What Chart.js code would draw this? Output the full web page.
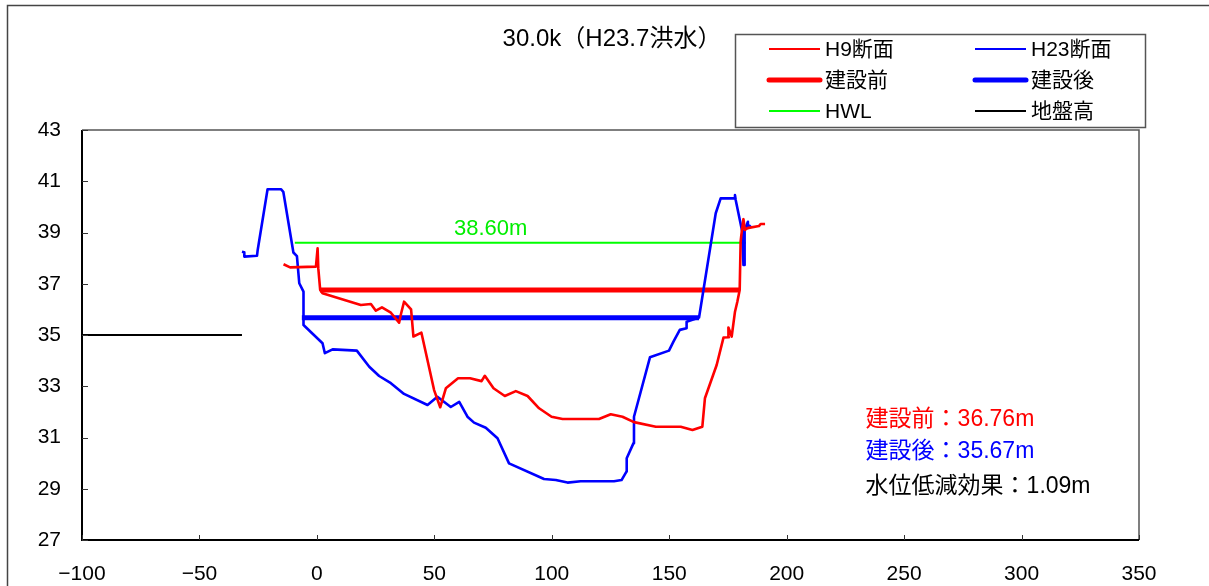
<!DOCTYPE html>
<html>
<head>
<meta charset="utf-8">
<script src="https://cdn.jsdelivr.net/npm/chart.js@4/dist/chart.umd.min.js"></script>
<style>
  html, body { margin: 0; padding: 0; background: #fff; }
  #wrap { position: relative; width: 1209px; height: 586px; }
</style>
</head>
<body>
<div id="wrap"><canvas id="c" width="1209" height="586"></canvas></div>
<script>
// ---- cross-section data (distance in m, elevation in m) ----
const titleText = '30.0k（H23.7洪水）';

// H9 surveyed cross-section
const h9X = [-14.2, -11.4, -0.4, 0.3, 0.6, 1.4, 2.4, 18.7, 23.0, 25.1, 27.7, 31.5, 35.0, 35.7, 37.1, 40.1,
  41.1, 44.5, 49.9, 52.5, 54.9, 60.1, 65.2, 70.1, 71.5, 75.2, 80.0, 84.7, 89.7, 94.6, 99.9, 104.6,
  120.1, 125.1, 130.1, 135.0, 144.3, 154.9, 159.9, 164.1, 165.2, 170.2, 173.1, 175.4, 175.2, 176.6,
  178.0, 179.0, 180.0, 180.4, 180.7, 181.6, 182.2, 183.3, 188.2, 188.9, 190.8];
const h9Y = [37.76, 37.64, 37.67, 38.38, 37.60, 36.76, 36.63, 36.17, 36.21, 35.95, 36.08, 35.87, 35.48, 35.78, 36.30, 36.00,
  34.94, 35.09, 32.85, 32.18, 32.92, 33.31, 33.31, 33.20, 33.41, 32.92, 32.62, 32.81, 32.62, 32.14, 31.81, 31.72,
  31.72, 31.91, 31.81, 31.60, 31.42, 31.42, 31.29, 31.42, 32.53, 33.83, 34.90, 34.91, 35.29, 34.94,
  35.91, 36.30, 36.76, 38.64, 38.90, 39.52, 39.10, 39.17, 39.25, 39.33, 39.33];

// H23 surveyed cross-section
const h23X = [-31.9, -30.9, -30.9, -25.5, -25.2, -21.0, -15.3, -14.3, -10.0, -8.5, -7.5, -5.7, -5.7, 2.4, 3.4, 6.7,
  17.0, 22.3, 26.5, 31.5, 37.1, 47.1, 51.3, 57.0, 60.6, 64.1, 66.9, 71.9, 76.9, 81.8, 96.7, 101.7,
  106.7, 112.3, 126.5, 129.7, 131.8, 131.9, 134.8, 135.0, 141.8, 149.9, 151.8, 154.5, 157.4, 157.4,
  162.7, 169.8, 171.9, 177.6, 178.0, 178.3, 181.1, 181.6, 182.1, 182.1, 183.5, 183.5, 184.7];
const h23Y = [38.25, 38.23, 38.06, 38.09, 38.32, 40.69, 40.69, 40.59, 38.22, 38.08, 37.02, 36.69, 35.39, 34.68, 34.29, 34.44,
  34.39, 33.76, 33.40, 33.12, 32.70, 32.27, 32.59, 32.19, 32.39, 31.81, 31.58, 31.38, 30.97, 29.99, 29.38, 29.34,
  29.24, 29.29, 29.29, 29.34, 29.67, 30.19, 30.78, 31.81, 34.13, 34.39, 34.74, 35.20, 35.26, 35.52,
  35.68, 39.75, 40.33, 40.33, 40.46, 40.27, 39.03, 37.73, 37.73, 39.10, 39.42, 39.18, 39.29];

// computed water levels and their extents
const levelBefore = 36.76;           // 建設前
const beforeRange = [1.4, 180.0];
const levelAfter = 35.67;            // 建設後
const afterRange = [-6.4, 162.7];
const levelHWL = 38.60;              // HWL
const hwlRange = [-9.4, 182.6];
const groundLevel = 35.0;            // 地盤高
const groundRange = [-100, -31.9];

// axes
const xTicks = [-100, -50, 0, 50, 100, 150, 200, 250, 300, 350];
const yTicks = [27, 29, 31, 33, 35, 37, 39, 41, 43];

const FONT = '"Liberation Sans", "Noto Sans CJK JP", sans-serif';
const RED = '#ff0000', BLUE = '#0000ff', GREEN = '#00ee00', BLACK = '#000000';

const toPts = (xs, ys) => xs.map((x, i) => ({ x: x, y: ys[i] }));
const flat = (range, level) => [{ x: range[0], y: level }, { x: range[1], y: level }];

const datasets = [
  { label: 'H9断面', data: toPts(h9X, h9Y), borderColor: RED, borderWidth: 2.6, legendWidth: 2 },
  { label: 'H23断面', data: toPts(h23X, h23Y), borderColor: BLUE, borderWidth: 2.6, legendWidth: 2 },
  { label: '建設前', data: flat(beforeRange, levelBefore), borderColor: RED, borderWidth: 5, legendWidth: 5 },
  { label: '建設後', data: flat(afterRange, levelAfter), borderColor: BLUE, borderWidth: 5, legendWidth: 5 },
  { label: 'HWL', data: flat(hwlRange, levelHWL), borderColor: '#00ff00', borderWidth: 2, legendWidth: 2 },
  { label: '地盤高', data: flat(groundRange, groundLevel), borderColor: BLACK, borderWidth: 2, legendWidth: 2 }
].map(d => Object.assign(d, {
  showLine: true, pointRadius: 0, pointHoverRadius: 0, tension: 0, fill: false,
  borderJoinStyle: 'round', borderCapStyle: 'butt'
}));

const fmt = v => (v < 0 ? '\u2212' + Math.abs(v) : String(v));

// frame, inward ticks, legend box, title and value labels
const decor = {
  id: 'decor',
  beforeDraw(chart) {
    const ctx = chart.ctx;
    ctx.save();
    ctx.fillStyle = '#fff';
    ctx.fillRect(0, 0, chart.width, chart.height);
    ctx.strokeStyle = '#444';
    ctx.lineWidth = 1.5;
    ctx.beginPath();
    ctx.moveTo(7.5, chart.height);
    ctx.lineTo(7.5, 5.5);
    ctx.lineTo(chart.width, 5.5);
    ctx.stroke();
    ctx.restore();
  },
  afterDraw(chart) {
    const ctx = chart.ctx;
    const a = chart.chartArea;
    const xs = chart.scales.x, ys = chart.scales.y;
    ctx.save();

    // plot frame
    ctx.strokeStyle = '#555';
    ctx.lineWidth = 1.5;
    ctx.beginPath();
    ctx.moveTo(a.left, a.top);
    ctx.lineTo(a.right, a.top);
    ctx.lineTo(a.right, a.bottom);
    ctx.stroke();
    ctx.strokeStyle = '#000';
    ctx.lineWidth = 2;
    ctx.beginPath();
    ctx.moveTo(a.left, a.top);
    ctx.lineTo(a.left, a.bottom);
    ctx.lineTo(a.right, a.bottom);
    ctx.stroke();

    // inward tick marks
    ctx.lineWidth = 1;
    ctx.strokeStyle = '#333';
    ctx.beginPath();
    yTicks.forEach(v => {
      const p = Math.round(ys.getPixelForValue(v)) + 0.5;
      ctx.moveTo(a.left, p); ctx.lineTo(a.left + 6, p);
    });
    xTicks.forEach(v => {
      const p = Math.round(xs.getPixelForValue(v)) + 0.5;
      ctx.moveTo(p, a.bottom); ctx.lineTo(p, a.bottom - 5);
    });
    ctx.stroke();

    // title
    ctx.fillStyle = '#000';
    ctx.font = '24px ' + FONT;
    ctx.textAlign = 'center';
    ctx.textBaseline = 'middle';
    ctx.fillText(titleText, 612, 39);

    // legend box (2 columns x 3 rows)
    const box = { l: 735, t: 34, r: 1145, b: 127 };
    ctx.fillStyle = '#fff';
    ctx.fillRect(box.l, box.t, box.r - box.l, box.b - box.t);
    ctx.strokeStyle = '#555';
    ctx.lineWidth = 1.5;
    ctx.strokeRect(box.l + 0.5, box.t + 0.5, box.r - box.l, box.b - box.t);
    const colX = [[769, 820, 825], [975, 1026, 1031]];
    const rowY = [49, 80, 111];
    ctx.font = '21px ' + FONT;
    ctx.textAlign = 'left';
    chart.data.datasets.forEach((d, i) => {
      const c = colX[i % 2], y = rowY[Math.floor(i / 2)];
      ctx.strokeStyle = d.borderColor;
      ctx.lineWidth = d.legendWidth;
      ctx.lineCap = d.legendWidth > 3 ? 'round' : 'butt';
      ctx.beginPath();
      ctx.moveTo(c[0], y); ctx.lineTo(c[1], y);
      ctx.stroke();
      ctx.fillStyle = '#000';
      ctx.fillText(d.label, c[2], y + 1);
    });
    ctx.lineCap = 'butt';

    // HWL value label
    ctx.font = '22px ' + FONT;
    ctx.textAlign = 'center';
    ctx.fillStyle = GREEN;
    ctx.fillText(levelHWL.toFixed(2) + 'm', xs.getPixelForValue(74), ys.getPixelForValue(levelHWL) - 14);

    // water level summary
    const lx = xs.getPixelForValue(233.6);
    ctx.textAlign = 'left';
    ctx.font = '23px ' + FONT;
    const rows = [
      ['建設前：' + levelBefore.toFixed(2) + 'm', RED, 31.68],
      ['建設後：' + levelAfter.toFixed(2) + 'm', BLUE, 30.45],
      ['水位低減効果：' + (levelBefore - levelAfter).toFixed(2) + 'm', BLACK, 29.08]
    ];
    rows.forEach(r => {
      ctx.fillStyle = r[1];
      ctx.fillText(r[0], lx, ys.getPixelForValue(r[2]));
    });
    ctx.restore();
  }
};

const tickFont = { family: FONT, size: 21 };

new Chart(document.getElementById('c'), {
  type: 'scatter',
  data: { datasets: datasets },
  options: {
    responsive: false,
    animation: false,
    devicePixelRatio: 1,
    layout: { padding: { top: 130, right: 70, left: 0, bottom: 0 } },
    plugins: { legend: { display: false }, title: { display: false }, tooltip: { enabled: false } },
    scales: {
      x: {
        type: 'linear', position: 'bottom', min: -100, max: 350,
        afterBuildTicks: s => { s.ticks = xTicks.map(v => ({ value: v })); },
        afterFit: s => { s.height = 46; },
        grid: { display: false }, border: { display: false },
        ticks: { font: tickFont, color: '#000', padding: 14, maxRotation: 0, autoSkip: false, callback: fmt }
      },
      y: {
        type: 'linear', position: 'left', min: 27, max: 43,
        afterBuildTicks: s => { s.ticks = yTicks.map(v => ({ value: v })); },
        afterFit: s => { s.width = 82; },
        grid: { display: false }, border: { display: false },
        ticks: { font: tickFont, color: '#000', padding: 13, autoSkip: false, callback: fmt }
      }
    }
  },
  plugins: [decor]
});
</script>
</body>
</html>
